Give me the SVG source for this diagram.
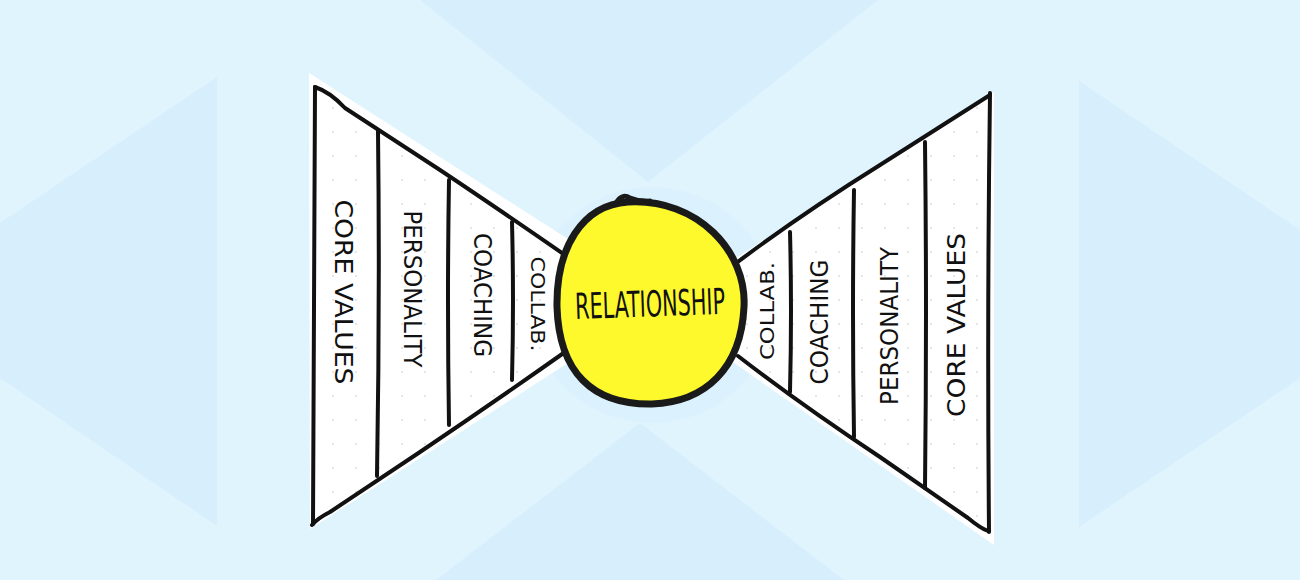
<svg xmlns="http://www.w3.org/2000/svg" width="1300" height="580" viewBox="0 0 1300 580">
  <defs>
    <pattern id="dots" width="23" height="24" patternUnits="userSpaceOnUse">
      <circle cx="11" cy="12" r="0.9" fill="#d9d9d9"/>
    </pattern>
    <style>
      .bgd { fill: #d7effc; }
      .ink { fill: none; stroke: #111111; stroke-width: 4; stroke-linecap: round; stroke-linejoin: round; }
      .paper { fill: #ffffff; }
      .lbl { font-family: "DejaVu Sans", "Liberation Sans", sans-serif; font-size: 24px; fill: #111111; text-anchor: middle; dominant-baseline: central; }
      .big { font-family: "DejaVu Sans Condensed", "DejaVu Sans", sans-serif; font-size: 36px; fill: #111111; text-anchor: middle; dominant-baseline: central; }
    </style>
  </defs>

  <!-- background -->
  <rect x="0" y="0" width="1300" height="580" fill="#e0f4fe"/>
  <polygon class="bgd" points="0,223 217,77 217,526 0,378"/>
  <polygon class="bgd" points="1079,81 1300,230 1300,378 1079,527"/>
  <polygon class="bgd" points="420,0 878,0 648,182"/>
  <polygon class="bgd" points="640,423 844,580 436,580"/>
  <ellipse cx="652" cy="305" rx="122" ry="118" fill="#dbf1fd"/>

  <!-- left funnel -->
  <g id="left-funnel">
    <polygon class="paper" points="309,73 585,250 585,352 310,529"/>
    <polygon fill="url(#dots)" points="315,88 585,268 585,340 313,524"/>
    <path class="ink" d="M315,87 Q314,300 313,524"/>
    <path class="ink" d="M315,87 Q330,92 345,108 L440,170 Q500,210 575,262"/>
    <path class="ink" d="M312,525 Q318,518 330,512 L420,452 Q500,398 575,345"/>
    <g id="left-core-values">
      <text class="lbl" transform="translate(343,292) rotate(90)" textLength="185" lengthAdjust="spacingAndGlyphs">CORE VALUES</text>
    </g>
    <g id="left-personality">
      <path class="ink" d="M378,131 Q380,300 377,476"/>
      <text class="lbl" transform="translate(412,289) rotate(90)" textLength="157" lengthAdjust="spacingAndGlyphs">PERSONALITY</text>
    </g>
    <g id="left-coaching">
      <path class="ink" d="M449,180 Q447,300 449,425"/>
      <text class="lbl" transform="translate(482,295) rotate(90)" textLength="124" lengthAdjust="spacingAndGlyphs">COACHING</text>
    </g>
    <g id="left-collab">
      <path class="ink" d="M512,222 Q514,300 512,380"/>
      <text class="lbl" transform="translate(538,304) rotate(90)" textLength="95" lengthAdjust="spacingAndGlyphs" style="font-size:20px">COLLAB.</text>
    </g>
  </g>

  <!-- right funnel -->
  <g id="right-funnel">
    <polygon class="paper" points="730,262 994,92 994,545 730,360"/>
    <polygon fill="url(#dots)" points="735,268 987,97 987,530 735,355"/>
    <path class="ink" d="M990,93 Q987,310 989,532"/>
    <path class="ink" d="M990,95 L880,165 Q800,215 735,264"/>
    <path class="ink" d="M988,531 Q980,528 968,518 L880,457 Q800,404 738,356"/>
    <g id="right-collab">
      <path class="ink" d="M790,232 Q792,310 790,392"/>
      <text class="lbl" transform="translate(767,311) rotate(-90)" textLength="98" lengthAdjust="spacingAndGlyphs" style="font-size:20px">COLLAB.</text>
    </g>
    <g id="right-coaching">
      <path class="ink" d="M854,190 Q852,310 854,437"/>
      <text class="lbl" transform="translate(820,322) rotate(-90)" textLength="125" lengthAdjust="spacingAndGlyphs">COACHING</text>
    </g>
    <g id="right-personality">
      <path class="ink" d="M925,142 Q927,310 925,488"/>
      <text class="lbl" transform="translate(890,326) rotate(-90)" textLength="158" lengthAdjust="spacingAndGlyphs">PERSONALITY</text>
    </g>
    <g id="right-core-values">
      <text class="lbl" transform="translate(957,325) rotate(-90)" textLength="184" lengthAdjust="spacingAndGlyphs">CORE VALUES</text>
    </g>
  </g>

  <!-- center node -->
  <g id="relationship">
    <path d="M628,202 C698,198 747,252 744,307 C741,368 706,402 652,404 C592,405 559,372 557,307 C556,248 582,205 628,202 Z" fill="#fef92c" stroke="#1a1a1a" stroke-width="7" stroke-linejoin="round"/>
    <path d="M616,203 Q622,193 630,198 Q640,202 650,201" fill="none" stroke="#1a1a1a" stroke-width="5" stroke-linecap="round"/>
    <text class="big" transform="translate(650,304) rotate(-2)" textLength="150" lengthAdjust="spacingAndGlyphs">RELATIONSHIP</text>
  </g>
</svg>
